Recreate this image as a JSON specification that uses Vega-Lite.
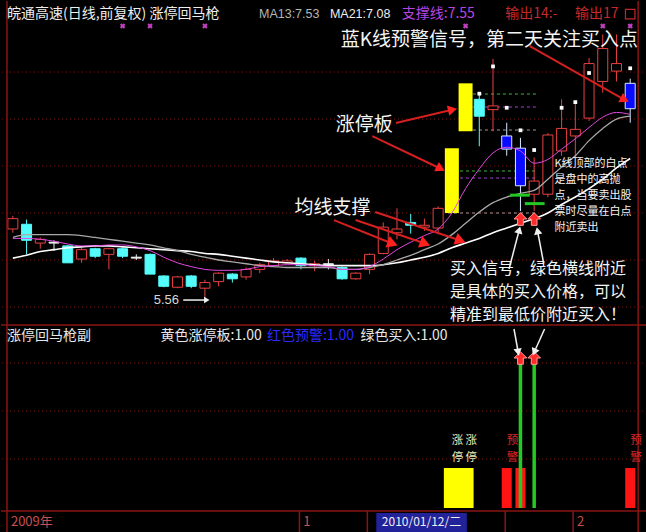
{
  "$schema": "https://vega.github.io/schema/vega-lite/v6.json",
  "background": "#000000",
  "padding": 0,
  "spacing": 0,
  "bounds": "flush",
  "config": {"view": {"stroke": null}, "text": {"font": "Noto Sans CJK SC"}},
  "datasets": {
    "candles": [
      {"t":1,"o":6.33,"h":6.47,"l":6.29,"c":6.44,"k":"up"},
      {"t":2,"o":6.38,"h":6.43,"l":6.06,"c":6.21,"k":"down"},
      {"t":3,"o":6.18,"h":6.24,"l":6.12,"c":6.22,"k":"up"},
      {"t":4,"o":6.18,"h":6.21,"l":6.10,"c":6.19,"k":"doji"},
      {"t":5,"o":6.15,"h":6.16,"l":5.97,"c":5.97,"k":"down"},
      {"t":6,"o":6.01,"h":6.13,"l":5.97,"c":6.11,"k":"up"},
      {"t":7,"o":6.12,"h":6.13,"l":6.02,"c":6.04,"k":"down"},
      {"t":8,"o":6.06,"h":6.13,"l":5.90,"c":6.12,"k":"up"},
      {"t":9,"o":6.12,"h":6.13,"l":6.02,"c":6.04,"k":"down"},
      {"t":10,"o":6.02,"h":6.06,"l":6.00,"c":6.03,"k":"doji"},
      {"t":11,"o":6.06,"h":6.07,"l":5.85,"c":5.85,"k":"down"},
      {"t":12,"o":5.83,"h":5.84,"l":5.71,"c":5.72,"k":"down"},
      {"t":13,"o":5.71,"h":5.83,"l":5.70,"c":5.82,"k":"up"},
      {"t":14,"o":5.83,"h":5.84,"l":5.70,"c":5.72,"k":"down"},
      {"t":15,"o":5.70,"h":5.79,"l":5.56,"c":5.76,"k":"up"},
      {"t":16,"o":5.77,"h":5.87,"l":5.72,"c":5.86,"k":"up"},
      {"t":17,"o":5.85,"h":5.86,"l":5.76,"c":5.80,"k":"down"},
      {"t":18,"o":5.82,"h":5.92,"l":5.79,"c":5.90,"k":"up"},
      {"t":19,"o":5.90,"h":5.97,"l":5.86,"c":5.95,"k":"up"},
      {"t":20,"o":5.94,"h":6.02,"l":5.93,"c":5.99,"k":"up"},
      {"t":21,"o":5.97,"h":6.01,"l":5.96,"c":5.99,"k":"up"},
      {"t":22,"o":6.02,"h":6.03,"l":5.90,"c":5.94,"k":"down"},
      {"t":23,"o":5.94,"h":5.99,"l":5.88,"c":5.96,"k":"up"},
      {"t":24,"o":5.95,"h":6.01,"l":5.90,"c":5.96,"k":"doji"},
      {"t":25,"o":5.92,"h":5.93,"l":5.79,"c":5.80,"k":"down"},
      {"t":26,"o":5.80,"h":5.87,"l":5.79,"c":5.86,"k":"up"},
      {"t":27,"o":5.90,"h":6.07,"l":5.85,"c":6.06,"k":"up"},
      {"t":28,"o":6.07,"h":6.40,"l":6.06,"c":6.35,"k":"up"},
      {"t":29,"o":6.29,"h":6.55,"l":6.22,"c":6.33,"k":"up"},
      {"t":30,"o":6.40,"h":6.49,"l":6.28,"c":6.37,"k":"down"},
      {"t":31,"o":6.35,"h":6.44,"l":6.31,"c":6.37,"k":"up"},
      {"t":32,"o":6.34,"h":6.57,"l":6.28,"c":6.55,"k":"up"},
      {"t":33,"o":6.50,"h":7.19,"l":6.50,"c":7.19,"k":"limit"},
      {"t":34,"o":7.37,"h":7.88,"l":7.37,"c":7.88,"k":"limit"},
      {"t":35,"o":7.71,"h":7.77,"l":7.21,"c":7.53,"k":"down"},
      {"t":36,"o":7.60,"h":8.14,"l":7.37,"c":7.64,"k":"up"},
      {"t":37,"o":7.32,"h":7.46,"l":7.11,"c":7.18,"k":"warn"},
      {"t":38,"o":7.19,"h":7.30,"l":6.52,"c":6.79,"k":"warn"},
      {"t":39,"o":6.70,"h":7.09,"l":6.52,"c":6.84,"k":"up"},
      {"t":40,"o":6.70,"h":7.35,"l":6.67,"c":7.33,"k":"up"},
      {"t":41,"o":7.16,"h":7.71,"l":7.11,"c":7.40,"k":"up"},
      {"t":42,"o":7.32,"h":7.69,"l":7.09,"c":7.39,"k":"up"},
      {"t":43,"o":7.51,"h":8.15,"l":7.48,"c":8.09,"k":"up"},
      {"t":44,"o":7.90,"h":8.40,"l":7.78,"c":8.25,"k":"up"},
      {"t":45,"o":8.01,"h":8.40,"l":7.90,"c":8.09,"k":"up"},
      {"t":46,"o":7.88,"h":7.93,"l":7.46,"c":7.61,"k":"warn"}
    ],
    "ma": [
      {"t":1,"MA21":6.02,"MA13":6.24,"ZC":6.23},
      {"t":2,"MA21":6.05,"MA13":6.27,"ZC":6.23},
      {"t":3,"MA21":6.09,"MA13":6.27,"ZC":6.22},
      {"t":4,"MA21":6.11,"MA13":6.27,"ZC":6.20},
      {"t":5,"MA21":6.13,"MA13":6.27,"ZC":6.17},
      {"t":6,"MA21":6.14,"MA13":6.26,"ZC":6.15},
      {"t":7,"MA21":6.15,"MA13":6.24,"ZC":6.15},
      {"t":8,"MA21":6.15,"MA13":6.22,"ZC":6.16},
      {"t":9,"MA21":6.14,"MA13":6.20,"ZC":6.16},
      {"t":10,"MA21":6.13,"MA13":6.18,"ZC":6.14},
      {"t":11,"MA21":6.12,"MA13":6.16,"ZC":6.10},
      {"t":12,"MA21":6.11,"MA13":6.13,"ZC":6.03},
      {"t":13,"MA21":6.10,"MA13":6.10,"ZC":5.97},
      {"t":14,"MA21":6.09,"MA13":6.06,"ZC":5.93},
      {"t":15,"MA21":6.07,"MA13":6.03,"ZC":5.90},
      {"t":16,"MA21":6.06,"MA13":6.00,"ZC":5.89},
      {"t":17,"MA21":6.04,"MA13":5.98,"ZC":5.89},
      {"t":18,"MA21":6.02,"MA13":5.96,"ZC":5.90},
      {"t":19,"MA21":6.00,"MA13":5.94,"ZC":5.93},
      {"t":20,"MA21":5.98,"MA13":5.93,"ZC":5.94},
      {"t":21,"MA21":5.97,"MA13":5.92,"ZC":5.95},
      {"t":22,"MA21":5.96,"MA13":5.92,"ZC":5.95},
      {"t":23,"MA21":5.95,"MA13":5.92,"ZC":5.94},
      {"t":24,"MA21":5.94,"MA13":5.92,"ZC":5.93},
      {"t":25,"MA21":5.94,"MA13":5.90,"ZC":5.90},
      {"t":26,"MA21":5.94,"MA13":5.90,"ZC":5.90},
      {"t":27,"MA21":5.94,"MA13":5.92,"ZC":5.93},
      {"t":28,"MA21":5.95,"MA13":5.95,"ZC":6.01},
      {"t":29,"MA21":5.97,"MA13":6.00,"ZC":6.11},
      {"t":30,"MA21":6.00,"MA13":6.05,"ZC":6.19},
      {"t":31,"MA21":6.03,"MA13":6.11,"ZC":6.26},
      {"t":32,"MA21":6.07,"MA13":6.17,"ZC":6.33},
      {"t":33,"MA21":6.13,"MA13":6.27,"ZC":6.50},
      {"t":34,"MA21":6.18,"MA13":6.39,"ZC":6.76},
      {"t":35,"MA21":6.23,"MA13":6.51,"ZC":6.97},
      {"t":36,"MA21":6.29,"MA13":6.61,"ZC":7.14},
      {"t":37,"MA21":6.34,"MA13":6.67,"ZC":7.20},
      {"t":38,"MA21":6.39,"MA13":6.71,"ZC":7.16},
      {"t":39,"MA21":6.44,"MA13":6.74,"ZC":7.03},
      {"t":40,"MA21":6.50,"MA13":6.86,"ZC":7.07},
      {"t":41,"MA21":6.59,"MA13":6.99,"ZC":7.18},
      {"t":42,"MA21":6.67,"MA13":7.11,"ZC":7.29},
      {"t":43,"MA21":6.76,"MA13":7.27,"ZC":7.41},
      {"t":44,"MA21":6.86,"MA13":7.40,"ZC":7.52},
      {"t":45,"MA21":6.98,"MA13":7.50,"ZC":7.57},
      {"t":46,"MA21":7.08,"MA13":7.53,"ZC":7.55}
    ],
    "grid": [{"p":8.0},{"p":7.5},{"p":7.0},{"p":6.5},{"p":6.0},{"p":5.5}],
    "levels": [
      {"t":33.66,"t2":39.2,"p":7.766,"s":"g"},
      {"t":33.66,"t2":39.2,"p":7.628,"s":"m"},
      {"t":33.66,"t2":39.2,"p":7.383,"s":"w"},
      {"t":32.72,"t2":39.2,"p":6.947,"s":"g"},
      {"t":32.72,"t2":39.2,"p":6.872,"s":"m"},
      {"t":32.72,"t2":39.2,"p":6.50,"s":"w"}
    ],
    "buylines": [{"t":37.25,"t2":38.68,"p":6.69},{"t":38.32,"t2":39.76,"p":6.60}],
    "dots": [{"t":35,"p":7.77},{"t":36,"p":8.06},{"t":37,"p":7.62},{"t":38,"p":7.38},{"t":39,"p":7.17},{"t":41,"p":7.62},{"t":42,"p":7.68},{"t":43,"p":7.99},{"t":46,"p":8.04}],
    "buyTop": [{"t":38,"p":6.436},{"t":39,"p":6.436}],
    "xmarks": [{"t":9,"p":8.49},{"t":11,"p":8.49},{"t":15,"p":8.49},{"t":34,"p":8.49},{"t":44,"p":8.49},{"t":46,"p":8.49}],
    "redArrows": [
      {"t":24.40,"p":6.425,"t2":28.56,"p2":6.181},
      {"t":25.98,"p":6.425,"t2":30.93,"p2":6.181},
      {"t":27.41,"p":6.511,"t2":33.51,"p2":6.213},
      {"t":28.92,"p":7.458,"t2":32.94,"p2":7.596},
      {"t":27.20,"p":7.319,"t2":32.08,"p2":6.979},
      {"t":38.68,"p":8.277,"t2":45.50,"p2":7.713}
    ],
    "headA": [{"t":28.56,"p":6.181},{"t":30.93,"p":6.181},{"t":33.51,"p":6.213}],
    "headB": [{"t":32.94,"p":7.596}],
    "headC": [{"t":32.08,"p":6.979},{"t":45.50,"p":7.713}],
    "whiteArrows": [
      {"t":37.17,"p":5.904,"t2":37.89,"p2":6.308},
      {"t":39.69,"p":5.968,"t2":39.26,"p2":6.298},
      {"t":13.42,"p":5.574,"t2":15.07,"p2":5.574}
    ],
    "wheadD1": [{"t":37.89,"p":6.308}],
    "wheadD2": [{"t":39.26,"p":6.298}],
    "wheadE": [{"t":15.07,"p":5.574}],
    "frame": [{"t":0.57},{"t":46.58}],
    "cornerBox": [{"t":46.0,"p":8.617}],
    "ttlCJK": [
      {"t":0.57,"p":8.617,"text":"皖通高速(日线,前复权) 涨停回马枪","g":"w"},
      {"t":29.35,"p":8.617,"text":"支撑线:7.55","g":"mag"},
      {"t":36.89,"p":8.617,"text":"输出14:-","g":"red"},
      {"t":41.98,"p":8.617,"text":"输出17","g":"red"}
    ],
    "ttlLatin": [
      {"t":18.94,"p":8.617,"text":"MA13:7.53","g":"gray"},
      {"t":24.11,"p":8.617,"text":"MA21:7.08","g":"w"}
    ],
    "notesBig": [
      {"t":24.90,"p":8.341,"text":"蓝K线预警信号，第二天关注买入点"},
      {"t":24.54,"p":7.436,"text":"涨停板"},
      {"t":21.53,"p":6.553,"text":"均线支撑"}
    ],
    "notesMid": [
      {"t":32.87,"p":5.904,"text":"买入信号，绿色横线附近\n是具体的买入价格，可以\n精准到最低价附近买入！"}
    ],
    "notesSmall": [
      {"t":40.48,"p":7.021,"text":"K线顶部的白点\n是盘中的高抛\n点，当要卖出股\n票时尽量在白点\n附近卖出"}
    ],
    "lowLabel": [{"t":11.27,"p":5.574,"text":"5.56"}],
    "indGrid": [{"v":3.625},{"v":2.425},{"v":1.225}],
    "hlines": [{"v":4.575},{"v":-0.075}],
    "indBars": [{"t":33,"v":1,"k":"y"},{"t":34,"v":1,"k":"y"},{"t":37,"v":1,"k":"r"},{"t":38,"v":1,"k":"r"},{"t":46,"v":1,"k":"r"}],
    "greenBuy": [{"t":38,"v":3.625},{"t":39,"v":3.625}],
    "buyBottom": [{"t":38,"v":3.75},{"t":39,"v":3.75}],
    "whiteArrowsB": [
      {"t":37.53,"v":4.475,"t2":37.82,"v2":3.925},
      {"t":39.76,"v":4.475,"t2":39.04,"v2":3.925}
    ],
    "wheadB1": [{"t":37.82,"v":3.925}],
    "wheadB2": [{"t":39.04,"v":3.925}],
    "indLabels": [
      {"t":33,"v":1.675,"text":"涨\n停","g":"y"},
      {"t":34,"v":1.675,"text":"涨\n停","g":"y"},
      {"t":37,"v":1.675,"text":"预\n警","g":"r"},
      {"t":46,"v":1.675,"text":"预\n警","g":"r"}
    ],
    "indHeader": [
      {"t":0.57,"v":4.3,"text":"涨停回马枪副","g":"w"},
      {"t":11.77,"v":4.3,"text":"黄色涨停板:1.00","g":"w"},
      {"t":19.52,"v":4.3,"text":"红色预警:1.00","g":"b"},
      {"t":26.34,"v":4.3,"text":"绿色买入:1.00","g":"w"}
    ],
    "axisTicks": [{"t":21.89},{"t":26.84},{"t":36.89},{"t":41.84}],
    "dateBox": [{"t":27.49,"t2":34.09}],
    "axisLabels": [{"t":0.86,"v":-0.35,"text":"2009年"},{"t":22.17,"v":-0.35,"text":"1"},{"t":42.13,"v":-0.35,"text":"2"}],
    "dateLabel": [{"t":30.79,"v":-0.36,"text":"2010/01/12/二"}]
  },
  "vconcat": [
    {
      "width": 646,
      "height": 323,
      "resolve": {"scale": {"color": "independent", "fill": "independent", "stroke": "independent", "strokeWidth": "independent"}},
      "layer": [
        {"data": {"name": "grid"}, "mark": {"type": "rule", "color": "#7a1414", "strokeDash": [1, 3], "strokeWidth": 1},
         "encoding": {"y": {"field": "p", "type": "quantitative", "scale": {"domain": [5.319, 8.756]}, "axis": null}}},
        {"data": {"name": "levels"}, "mark": {"type": "rule", "strokeDash": [3, 3], "strokeWidth": 1},
         "encoding": {"x": {"field": "t", "type": "quantitative", "scale": {"domain": [0.5, 46.86]}, "axis": null}, "x2": {"field": "t2"},
           "y": {"field": "p", "type": "quantitative", "scale": {"domain": [5.319, 8.756]}, "axis": null},
           "color": {"field": "s", "type": "nominal", "scale": {"domain": ["g", "m", "w"], "range": ["#3cb43c", "#a040d0", "#9a9a9a"]}, "legend": null}}},
        {"data": {"name": "candles"}, "transform": [{"filter": "datum.k != 'limit'"}], "mark": {"type": "rule", "strokeWidth": 1},
         "encoding": {"x": {"field": "t", "type": "quantitative", "scale": {"domain": [0.5, 46.86]}, "axis": null},
           "y": {"field": "h", "type": "quantitative", "scale": {"domain": [5.319, 8.756]}, "axis": null}, "y2": {"field": "l"},
           "color": {"field": "k", "type": "nominal", "scale": {"domain": ["up", "down", "warn", "doji"], "range": ["#e84040", "#54fcfc", "#d8e8ff", "#f0f0f0"]}, "legend": null}}},
        {"data": {"name": "candles"}, "transform": [{"filter": "datum.k != 'limit'"}], "mark": {"type": "bar", "width": 10, "strokeWidth": 1},
         "encoding": {"x": {"field": "t", "type": "quantitative", "scale": {"domain": [0.5, 46.86]}, "axis": null},
           "y": {"field": "o", "type": "quantitative", "scale": {"domain": [5.319, 8.756]}, "axis": null}, "y2": {"field": "c"},
           "fill": {"field": "k", "type": "nominal", "scale": {"domain": ["up", "down", "warn", "doji"], "range": ["#000000", "#54fcfc", "#0a0aff", "#f0f0f0"]}, "legend": null},
           "stroke": {"field": "k", "type": "nominal", "scale": {"domain": ["up", "down", "warn", "doji"], "range": ["#e84040", "#54fcfc", "#d8e8ff", "#f0f0f0"]}, "legend": null}}},
        {"data": {"name": "candles"}, "transform": [{"filter": "datum.k == 'limit'"}], "mark": {"type": "bar", "width": 14, "color": "#ffff00"},
         "encoding": {"x": {"field": "t", "type": "quantitative", "scale": {"domain": [0.5, 46.86]}, "axis": null},
           "y": {"field": "o", "type": "quantitative", "scale": {"domain": [5.319, 8.756]}, "axis": null}, "y2": {"field": "c"}}},
        {"data": {"name": "ma"}, "transform": [{"fold": ["MA21", "MA13", "ZC"], "as": ["s", "v"]}], "mark": {"type": "line", "interpolate": "monotone"},
         "encoding": {"x": {"field": "t", "type": "quantitative", "scale": {"domain": [0.5, 46.86]}, "axis": null},
           "y": {"field": "v", "type": "quantitative", "scale": {"domain": [5.319, 8.756]}, "axis": null},
           "color": {"field": "s", "type": "nominal", "scale": {"domain": ["MA21", "MA13", "ZC"], "range": ["#ffffff", "#a8a8a8", "#e048e0"]}, "legend": null},
           "strokeWidth": {"field": "s", "type": "nominal", "scale": {"domain": ["MA21", "MA13", "ZC"], "range": [1.6, 1, 1.3]}, "legend": null}}},
        {"data": {"name": "buylines"}, "mark": {"type": "rule", "color": "#22c822", "strokeWidth": 3},
         "encoding": {"x": {"field": "t", "type": "quantitative", "scale": {"domain": [0.5, 46.86]}, "axis": null}, "x2": {"field": "t2"},
           "y": {"field": "p", "type": "quantitative", "scale": {"domain": [5.319, 8.756]}, "axis": null}}},
        {"data": {"name": "dots"}, "mark": {"type": "point", "shape": "square", "filled": true, "color": "#ffffff", "size": 14, "opacity": 1},
         "encoding": {"x": {"field": "t", "type": "quantitative", "scale": {"domain": [0.5, 46.86]}, "axis": null},
           "y": {"field": "p", "type": "quantitative", "scale": {"domain": [5.319, 8.756]}, "axis": null}}},
        {"data": {"name": "buyTop"}, "mark": {"type": "point", "shape": "M0,-1L1,0L0.45,0L0.45,1L-0.45,1L-0.45,0L-1,0Z", "filled": true, "fill": "#ff2a2a", "stroke": "#ff9a9a", "strokeWidth": 1, "size": 160, "opacity": 1},
         "encoding": {"x": {"field": "t", "type": "quantitative", "scale": {"domain": [0.5, 46.86]}, "axis": null},
           "y": {"field": "p", "type": "quantitative", "scale": {"domain": [5.319, 8.756]}, "axis": null}}},
        {"data": {"name": "xmarks"}, "mark": {"type": "point", "shape": "cross", "angle": 45, "filled": true, "color": "#c040c0", "size": 30, "opacity": 1},
         "encoding": {"x": {"field": "t", "type": "quantitative", "scale": {"domain": [0.5, 46.86]}, "axis": null},
           "y": {"field": "p", "type": "quantitative", "scale": {"domain": [5.319, 8.756]}, "axis": null}}},
        {"data": {"name": "redArrows"}, "mark": {"type": "rule", "color": "#d42020", "strokeWidth": 2},
         "encoding": {"x": {"field": "t", "type": "quantitative", "scale": {"domain": [0.5, 46.86]}, "axis": null}, "x2": {"field": "t2"},
           "y": {"field": "p", "type": "quantitative", "scale": {"domain": [5.319, 8.756]}, "axis": null}, "y2": {"field": "p2"}}},
        {"data": {"name": "headA"}, "mark": {"type": "point", "shape": "triangle", "angle": 110, "filled": true, "color": "#ff2020", "size": 150, "opacity": 1},
         "encoding": {"x": {"field": "t", "type": "quantitative", "scale": {"domain": [0.5, 46.86]}, "axis": null},
           "y": {"field": "p", "type": "quantitative", "scale": {"domain": [5.319, 8.756]}, "axis": null}}},
        {"data": {"name": "headB"}, "mark": {"type": "point", "shape": "triangle", "angle": 77, "filled": true, "color": "#ff2020", "size": 110, "opacity": 1},
         "encoding": {"x": {"field": "t", "type": "quantitative", "scale": {"domain": [0.5, 46.86]}, "axis": null},
           "y": {"field": "p", "type": "quantitative", "scale": {"domain": [5.319, 8.756]}, "axis": null}}},
        {"data": {"name": "headC"}, "mark": {"type": "point", "shape": "triangle", "angle": 117, "filled": true, "color": "#ff2020", "size": 110, "opacity": 1},
         "encoding": {"x": {"field": "t", "type": "quantitative", "scale": {"domain": [0.5, 46.86]}, "axis": null},
           "y": {"field": "p", "type": "quantitative", "scale": {"domain": [5.319, 8.756]}, "axis": null}}},
        {"data": {"name": "whiteArrows"}, "mark": {"type": "rule", "color": "#f0f0f0", "strokeWidth": 1.5},
         "encoding": {"x": {"field": "t", "type": "quantitative", "scale": {"domain": [0.5, 46.86]}, "axis": null}, "x2": {"field": "t2"},
           "y": {"field": "p", "type": "quantitative", "scale": {"domain": [5.319, 8.756]}, "axis": null}, "y2": {"field": "p2"}}},
        {"data": {"name": "wheadD1"}, "mark": {"type": "point", "shape": "triangle", "angle": 15, "filled": true, "color": "#f0f0f0", "size": 70, "opacity": 1},
         "encoding": {"x": {"field": "t", "type": "quantitative", "scale": {"domain": [0.5, 46.86]}, "axis": null},
           "y": {"field": "p", "type": "quantitative", "scale": {"domain": [5.319, 8.756]}, "axis": null}}},
        {"data": {"name": "wheadD2"}, "mark": {"type": "point", "shape": "triangle", "angle": -11, "filled": true, "color": "#f0f0f0", "size": 70, "opacity": 1},
         "encoding": {"x": {"field": "t", "type": "quantitative", "scale": {"domain": [0.5, 46.86]}, "axis": null},
           "y": {"field": "p", "type": "quantitative", "scale": {"domain": [5.319, 8.756]}, "axis": null}}},
        {"data": {"name": "wheadE"}, "mark": {"type": "point", "shape": "triangle", "angle": 90, "filled": true, "color": "#f0f0f0", "size": 40, "opacity": 1},
         "encoding": {"x": {"field": "t", "type": "quantitative", "scale": {"domain": [0.5, 46.86]}, "axis": null},
           "y": {"field": "p", "type": "quantitative", "scale": {"domain": [5.319, 8.756]}, "axis": null}}},
        {"data": {"name": "frame"}, "mark": {"type": "rule", "color": "#8a1414", "strokeWidth": 1.5},
         "encoding": {"x": {"field": "t", "type": "quantitative", "scale": {"domain": [0.5, 46.86]}, "axis": null}}},
        {"data": {"name": "cornerBox"}, "mark": {"type": "point", "shape": "square", "filled": false, "stroke": "#c02828", "strokeWidth": 1.2, "size": 90, "opacity": 1},
         "encoding": {"x": {"field": "t", "type": "quantitative", "scale": {"domain": [0.5, 46.86]}, "axis": null},
           "y": {"field": "p", "type": "quantitative", "scale": {"domain": [5.319, 8.756]}, "axis": null}}},
        {"data": {"name": "ttlCJK"}, "mark": {"type": "text", "align": "left", "baseline": "middle", "fontSize": 14, "font": "Noto Sans CJK SC"},
         "encoding": {"x": {"field": "t", "type": "quantitative", "scale": {"domain": [0.5, 46.86]}, "axis": null},
           "y": {"field": "p", "type": "quantitative", "scale": {"domain": [5.319, 8.756]}, "axis": null}, "text": {"field": "text"},
           "color": {"field": "g", "type": "nominal", "scale": {"domain": ["w", "gray", "mag", "red"], "range": ["#eeeeee", "#b4b4b4", "#b844e0", "#c42a2a"]}, "legend": null}}},
        {"data": {"name": "ttlLatin"}, "mark": {"type": "text", "align": "left", "baseline": "middle", "fontSize": 12.5, "font": "Liberation Sans"},
         "encoding": {"x": {"field": "t", "type": "quantitative", "scale": {"domain": [0.5, 46.86]}, "axis": null},
           "y": {"field": "p", "type": "quantitative", "scale": {"domain": [5.319, 8.756]}, "axis": null}, "text": {"field": "text"},
           "color": {"field": "g", "type": "nominal", "scale": {"domain": ["w", "gray"], "range": ["#eeeeee", "#b4b4b4"]}, "legend": null}}},
        {"data": {"name": "notesBig"}, "mark": {"type": "text", "align": "left", "baseline": "middle", "fontSize": 19, "color": "#f4f4f4", "font": "Noto Sans CJK SC"},
         "encoding": {"x": {"field": "t", "type": "quantitative", "scale": {"domain": [0.5, 46.86]}, "axis": null},
           "y": {"field": "p", "type": "quantitative", "scale": {"domain": [5.319, 8.756]}, "axis": null}, "text": {"field": "text"}}},
        {"data": {"name": "notesMid"}, "mark": {"type": "text", "align": "left", "baseline": "middle", "fontSize": 16, "lineBreak": "\n", "lineHeight": 23, "color": "#f4f4f4", "font": "Noto Sans CJK SC"},
         "encoding": {"x": {"field": "t", "type": "quantitative", "scale": {"domain": [0.5, 46.86]}, "axis": null},
           "y": {"field": "p", "type": "quantitative", "scale": {"domain": [5.319, 8.756]}, "axis": null}, "text": {"field": "text"}}},
        {"data": {"name": "notesSmall"}, "mark": {"type": "text", "align": "left", "baseline": "middle", "fontSize": 11, "lineBreak": "\n", "lineHeight": 16, "color": "#f4f4f4", "font": "Noto Sans CJK SC"},
         "encoding": {"x": {"field": "t", "type": "quantitative", "scale": {"domain": [0.5, 46.86]}, "axis": null},
           "y": {"field": "p", "type": "quantitative", "scale": {"domain": [5.319, 8.756]}, "axis": null}, "text": {"field": "text"}}},
        {"data": {"name": "lowLabel"}, "mark": {"type": "text", "align": "left", "baseline": "middle", "fontSize": 13, "color": "#d8d8d8", "font": "Liberation Sans"},
         "encoding": {"x": {"field": "t", "type": "quantitative", "scale": {"domain": [0.5, 46.86]}, "axis": null},
           "y": {"field": "p", "type": "quantitative", "scale": {"domain": [5.319, 8.756]}, "axis": null}, "text": {"field": "text"}}}
      ]
    },
    {
      "width": 646,
      "height": 209,
      "resolve": {"scale": {"color": "independent"}},
      "layer": [
        {"data": {"name": "indGrid"}, "mark": {"type": "rule", "color": "#7a1414", "strokeDash": [1, 3], "strokeWidth": 1},
         "encoding": {"y": {"field": "v", "type": "quantitative", "scale": {"domain": [-0.625, 4.6]}, "axis": null}}},
        {"data": {"name": "hlines"}, "mark": {"type": "rule", "color": "#8a1414", "strokeWidth": 1.5},
         "encoding": {"y": {"field": "v", "type": "quantitative", "scale": {"domain": [-0.625, 4.6]}, "axis": null}}},
        {"data": {"name": "frame"}, "mark": {"type": "rule", "color": "#8a1414", "strokeWidth": 1.5},
         "encoding": {"x": {"field": "t", "type": "quantitative", "scale": {"domain": [0.5, 46.86]}, "axis": null}}},
        {"data": {"name": "indBars"}, "transform": [{"filter": "datum.k == 'y'"}], "mark": {"type": "bar", "width": 16, "color": "#ffff00"},
         "encoding": {"x": {"field": "t", "type": "quantitative", "scale": {"domain": [0.5, 46.86]}, "axis": null},
           "y": {"field": "v", "type": "quantitative", "scale": {"domain": [-0.625, 4.6]}, "axis": null}, "y2": {"datum": 0}}},
        {"data": {"name": "indBars"}, "transform": [{"filter": "datum.k == 'r'"}], "mark": {"type": "bar", "width": 10, "color": "#ff1414"},
         "encoding": {"x": {"field": "t", "type": "quantitative", "scale": {"domain": [0.5, 46.86]}, "axis": null},
           "y": {"field": "v", "type": "quantitative", "scale": {"domain": [-0.625, 4.6]}, "axis": null}, "y2": {"datum": 0}}},
        {"data": {"name": "greenBuy"}, "mark": {"type": "rule", "color": "#22cc22", "strokeWidth": 3.5},
         "encoding": {"x": {"field": "t", "type": "quantitative", "scale": {"domain": [0.5, 46.86]}, "axis": null},
           "y": {"field": "v", "type": "quantitative", "scale": {"domain": [-0.625, 4.6]}, "axis": null}, "y2": {"datum": 0}}},
        {"data": {"name": "buyBottom"}, "mark": {"type": "point", "shape": "M0,-1L1,0L0.45,0L0.45,1L-0.45,1L-0.45,0L-1,0Z", "filled": true, "fill": "#ff2a2a", "stroke": "#ff9a9a", "strokeWidth": 1, "size": 160, "opacity": 1},
         "encoding": {"x": {"field": "t", "type": "quantitative", "scale": {"domain": [0.5, 46.86]}, "axis": null},
           "y": {"field": "v", "type": "quantitative", "scale": {"domain": [-0.625, 4.6]}, "axis": null}}},
        {"data": {"name": "whiteArrowsB"}, "mark": {"type": "rule", "color": "#f0f0f0", "strokeWidth": 1.5},
         "encoding": {"x": {"field": "t", "type": "quantitative", "scale": {"domain": [0.5, 46.86]}, "axis": null}, "x2": {"field": "t2"},
           "y": {"field": "v", "type": "quantitative", "scale": {"domain": [-0.625, 4.6]}, "axis": null}, "y2": {"field": "v2"}}},
        {"data": {"name": "wheadB1"}, "mark": {"type": "point", "shape": "triangle", "angle": 170, "filled": true, "color": "#f0f0f0", "size": 70, "opacity": 1},
         "encoding": {"x": {"field": "t", "type": "quantitative", "scale": {"domain": [0.5, 46.86]}, "axis": null},
           "y": {"field": "v", "type": "quantitative", "scale": {"domain": [-0.625, 4.6]}, "axis": null}}},
        {"data": {"name": "wheadB2"}, "mark": {"type": "point", "shape": "triangle", "angle": 204, "filled": true, "color": "#f0f0f0", "size": 70, "opacity": 1},
         "encoding": {"x": {"field": "t", "type": "quantitative", "scale": {"domain": [0.5, 46.86]}, "axis": null},
           "y": {"field": "v", "type": "quantitative", "scale": {"domain": [-0.625, 4.6]}, "axis": null}}},
        {"data": {"name": "indLabels"}, "mark": {"type": "text", "align": "left", "baseline": "middle", "fontSize": 11.5, "lineBreak": "\n", "lineHeight": 17, "font": "Noto Sans CJK SC"},
         "encoding": {"x": {"field": "t", "type": "quantitative", "scale": {"domain": [0.5, 46.86]}, "axis": null},
           "y": {"field": "v", "type": "quantitative", "scale": {"domain": [-0.625, 4.6]}, "axis": null}, "text": {"field": "text"},
           "color": {"field": "g", "type": "nominal", "scale": {"domain": ["y", "r"], "range": ["#eeeebb", "#e02828"]}, "legend": null}}},
        {"data": {"name": "indHeader"}, "mark": {"type": "text", "align": "left", "baseline": "middle", "fontSize": 14, "font": "Noto Sans CJK SC"},
         "encoding": {"x": {"field": "t", "type": "quantitative", "scale": {"domain": [0.5, 46.86]}, "axis": null},
           "y": {"field": "v", "type": "quantitative", "scale": {"domain": [-0.625, 4.6]}, "axis": null}, "text": {"field": "text"},
           "color": {"field": "g", "type": "nominal", "scale": {"domain": ["w", "b"], "range": ["#e8e8e8", "#2a2aff"]}, "legend": null}}},
        {"data": {"name": "axisTicks"}, "mark": {"type": "rule", "color": "#8a1414", "strokeWidth": 1.5},
         "encoding": {"x": {"field": "t", "type": "quantitative", "scale": {"domain": [0.5, 46.86]}, "axis": null},
           "y": {"datum": -0.075, "type": "quantitative", "scale": {"domain": [-0.625, 4.6]}, "axis": null}, "y2": {"datum": -0.625}}},
        {"data": {"name": "dateBox"}, "mark": {"type": "rect", "color": "#22229a"},
         "encoding": {"x": {"field": "t", "type": "quantitative", "scale": {"domain": [0.5, 46.86]}, "axis": null}, "x2": {"field": "t2"},
           "y": {"datum": -0.125, "type": "quantitative", "scale": {"domain": [-0.625, 4.6]}, "axis": null}, "y2": {"datum": -0.6}}},
        {"data": {"name": "axisLabels"}, "mark": {"type": "text", "align": "left", "baseline": "middle", "fontSize": 13, "color": "#c85050", "font": "Noto Sans CJK SC"},
         "encoding": {"x": {"field": "t", "type": "quantitative", "scale": {"domain": [0.5, 46.86]}, "axis": null},
           "y": {"field": "v", "type": "quantitative", "scale": {"domain": [-0.625, 4.6]}, "axis": null}, "text": {"field": "text"}}},
        {"data": {"name": "dateLabel"}, "mark": {"type": "text", "align": "center", "baseline": "middle", "fontSize": 12, "color": "#f0f0f0", "font": "Noto Sans CJK SC"},
         "encoding": {"x": {"field": "t", "type": "quantitative", "scale": {"domain": [0.5, 46.86]}, "axis": null},
           "y": {"field": "v", "type": "quantitative", "scale": {"domain": [-0.625, 4.6]}, "axis": null}, "text": {"field": "text"}}}
      ]
    }
  ]
}
